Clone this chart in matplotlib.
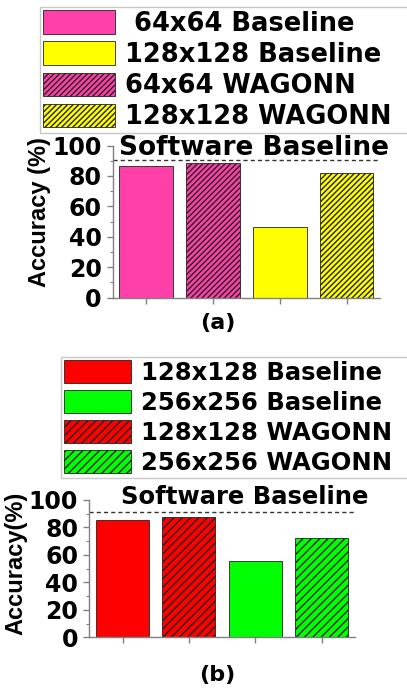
import numpy as np
import matplotlib
matplotlib.use("Agg")
import matplotlib.pyplot as plt
from matplotlib.ticker import MultipleLocator

plt.rcParams['font.family'] = ['DejaVu Sans']
plt.rcParams['font.weight'] = 'bold'
plt.rcParams['hatch.linewidth'] = 1.0

# panel (a)
labels_a = [' 64x64 Baseline', '128x128 Baseline', '64x64 WAGONN', '128x128 WAGONN']
acc_a = [86.7, 88.7, 46.6, 81.9]   # 64 base, 64 wagonn, 128 base, 128 wagonn
software_a = 90.5

# panel (b)
labels_b = ['128x128 Baseline', '256x256 Baseline', '128x128 WAGONN', '256x256 WAGONN']
acc_b = [85.4, 87.4, 55.8, 72.1]   # 128 base, 128 wagonn, 256 base, 256 wagonn
software_b = 91.5

pink = '#FF40A8'
yellow = '#FFFF00'
red = '#FF0000'
green = '#00FF00'


def draw_panel(ax, acc, colors, hatches, software, sw_pos, sw_size, ylabel, ylab_pos):
    x = np.arange(1, len(acc) + 1)
    bars = []
    for xi, v, c, h in zip(x, acc, colors, hatches):
        b = ax.bar(xi, v, width=0.8, color=c, edgecolor='#222222', linewidth=0.6, hatch=h)
        bars.append(b)
    ax.axhline(software, color='#333333', ls=(0, (3, 2.2)), lw=1.0)
    ax.text(sw_pos[0], sw_pos[1], 'Software Baseline', transform=ax.transAxes,
            ha='center', va='baseline', fontsize=sw_size, fontweight='bold')
    ax.set_xlim(0.5, 4.5)
    ax.set_ylim(0, 100)
    ax.set_xticks(x)
    ax.set_xticklabels([])
    ax.set_yticks([0, 20, 40, 60, 80, 100])
    ax.yaxis.set_minor_locator(MultipleLocator(10))
    for s in ['top', 'right']:
        ax.spines[s].set_visible(False)
    for s in ['left', 'bottom']:
        ax.spines[s].set_color('#808080')
        ax.spines[s].set_linewidth(1.0)
    ax.tick_params(axis='both', which='major', length=4, width=1, color='#808080',
                   labelsize=17, pad=4)
    ax.tick_params(axis='y', which='minor', length=2.5, width=0.8, color='#808080')
    ax.set_ylabel(ylabel, fontsize=17, fontweight='bold', family='Liberation Sans', va='center')
    ax.yaxis.set_label_coords(*ylab_pos)
    return bars


fig = plt.figure(figsize=(4.07, 6.9), dpi=100)

ax1 = fig.add_axes([0.2769, 0.5688, 0.6568, 0.2203])
bars_a = draw_panel(ax1, acc_a, [pink, pink, yellow, yellow], ['', '//////', '', '//////'],
                    software_a, (0.53, 0.94), 19, 'Accuracy (%)', (-0.272, 0.56))
fig.legend([bars_a[0], bars_a[2], bars_a[1], bars_a[3]], labels_a,
           loc='upper left', bbox_to_anchor=(0.0983, 0.9899, 1.1, 0.0), mode='expand',
           borderaxespad=0, prop={'family': 'DejaVu Sans', 'weight': 'bold', 'size': 18.5},
           handlelength=2.8, handleheight=1.04, handletextpad=0.38, labelspacing=0.18,
           borderpad=0.12, fancybox=False, framealpha=1, edgecolor='#c8c8c8')

ax2 = fig.add_axes([0.2194, 0.0764, 0.6528, 0.199])
bars_b = draw_panel(ax2, acc_b, [red, red, green, green], ['', '////', '', '////'],
                    software_b, (0.586, 0.974), 17.5, 'Accuracy(%)', (-0.275, 0.54))
fig.legend([bars_b[0], bars_b[2], bars_b[1], bars_b[3]], labels_b,
           loc='upper left', bbox_to_anchor=(0.15, 0.483, 1.1, 0.0), mode='expand',
           borderaxespad=0, prop={'family': 'DejaVu Sans', 'weight': 'bold', 'size': 17.5},
           handlelength=2.75, handleheight=1.13, handletextpad=0.4, labelspacing=0.2,
           borderpad=0.12, fancybox=False, framealpha=1, edgecolor='#c8c8c8')

fig.text(218 / 407, 1 - 322.7 / 690, '(a)', ha='center', va='center', fontsize=16, fontweight='bold')
fig.text(217 / 407, 1 - 675 / 690, '(b)', ha='center', va='center', fontsize=16, fontweight='bold')

fig.savefig('out.png', dpi=100)
